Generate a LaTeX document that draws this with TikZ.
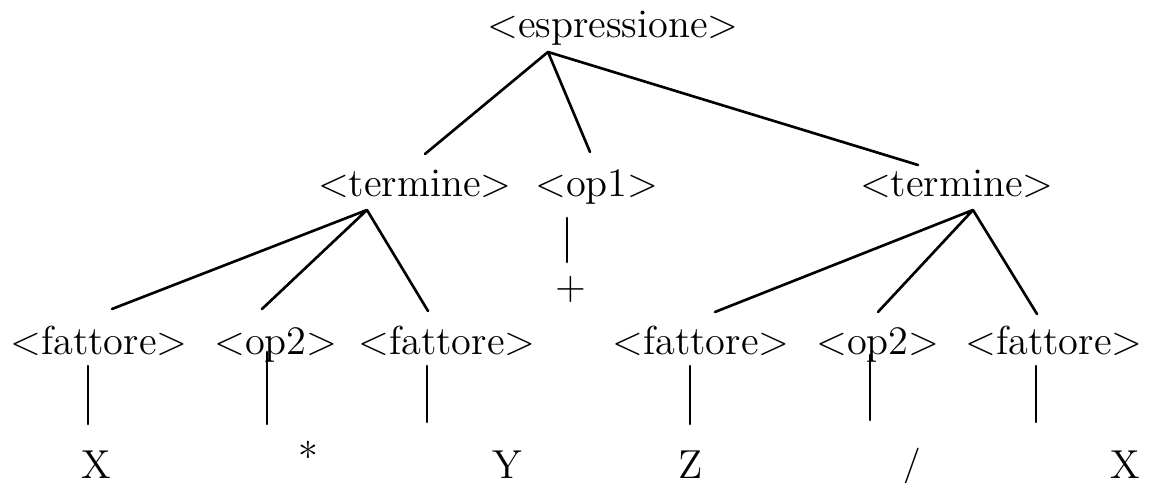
\documentclass[tikz,border=0pt]{standalone}
\begin{document}
\begin{tikzpicture}[x=0.01cm,y=-0.01cm,
  lab/.style={anchor=base,inner sep=0pt,font=\fontsize{11.5}{13}\selectfont},
  edge/.style={line width=0.75pt,line cap=round}]
\useasboundingbox (0,0) rectangle (1153,483);
% labels
\node[lab] (esp) at (613,38) {\textless espressione\textgreater};
\node[lab] (tL) at (415,197) {\textless termine\textgreater};
\node[lab] (op1) at (597,197) {\textless op1\textgreater};
\node[lab] (tR) at (957,197) {\textless termine\textgreater};
\node[lab] (f1) at (99,355) {\textless fattore\textgreater};
\node[lab] (o2a) at (276,355) {\textless op2\textgreater};
\node[lab] (f2) at (447,355) {\textless fattore\textgreater};
\node[lab] (f3) at (701,355) {\textless fattore\textgreater};
\node[lab] (o2b) at (878,355) {\textless op2\textgreater};
\node[lab] (f4) at (1054,355) {\textless fattore\textgreater};
\node[lab] (plus) at (571,300) {+};
\node[lab] (x1) at (96,479) {X};
\node[lab] (ast) at (308,472) {*};
\node[lab] (y1) at (507,479) {Y};
\node[lab] (z1) at (691,479) {Z};
\node[lab] (sl) at (911,479) {/};
\node[lab] (x2) at (1125,479) {X};
% junctions and ends
\coordinate (j0) at (548,52);
\coordinate (j1) at (367,210);
\coordinate (j2) at (973,210);
\coordinate (tLt) at (425,154);
\coordinate (op1t) at (590,152);
\coordinate (tRt) at (918,165);
\coordinate (f1t) at (112,309);
\coordinate (o2at) at (262,309);
\coordinate (f2t) at (428,311);
\coordinate (f3t) at (715,312);
\coordinate (o2bt) at (878,312);
\coordinate (f4t) at (1037,314);
\draw[edge] (j0) -- (tLt) (j0) -- (op1t) (j0) -- (tRt);
\draw[edge] (j1) -- (f1t) (j1) -- (o2at) (j1) -- (f2t);
\draw[edge] (j2) -- (f3t) (j2) -- (o2bt) (j2) -- (f4t);
% verticals
\coordinate (op1b) at (567,218); \coordinate (plust) at (567,262);
\draw[edge] (op1b) -- (plust);
\coordinate (f1b) at (88,366); \coordinate (x1t) at (88,424);
\coordinate (o2ab) at (267,352); \coordinate (astt) at (267,424);
\coordinate (f2b) at (427,366); \coordinate (y1t) at (427,422);
\coordinate (f3b) at (690,366); \coordinate (z1t) at (690,424);
\coordinate (o2bb) at (870,355); \coordinate (slt) at (870,420);
\coordinate (f4b) at (1036,366); \coordinate (x2t) at (1036,422);
\draw[edge] (f1b) -- (x1t) (o2ab) -- (astt) (f2b) -- (y1t)
  (f3b) -- (z1t) (o2bb) -- (slt) (f4b) -- (x2t);
\end{tikzpicture}
\end{document}
